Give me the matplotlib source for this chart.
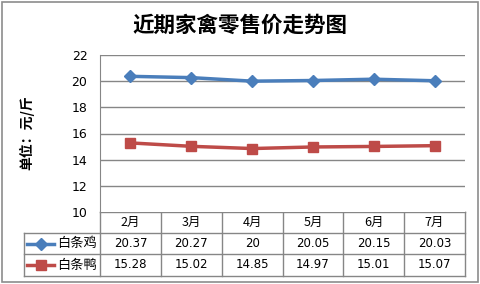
import matplotlib
matplotlib.use("Agg")
import matplotlib.pyplot as plt
from matplotlib.patches import Rectangle

plt.rcParams['font.family'] = ['Noto Sans CJK SC', 'DejaVu Sans']

months = ["2月", "3月", "4月", "5月", "6月", "7月"]
chicken = [20.37, 20.27, 20, 20.05, 20.15, 20.03]
duck = [15.28, 15.02, 14.85, 14.97, 15.01, 15.07]
chicken_txt = ["20.37", "20.27", "20", "20.05", "20.15", "20.03"]
duck_txt = ["15.28", "15.02", "14.85", "14.97", "15.01", "15.07"]
series_names = ["白条鸡", "白条鸭"]
yticks = [10, 12, 14, 16, 18, 20, 22]

blue = "#4A7EBB"
red = "#BE4B48"
grid_c = "#868686"

W, H = 480, 284
fig = plt.figure(figsize=(4.8, 2.84), dpi=100)

# overlay in pixel coords for border, title, table
ov = fig.add_axes([0, 0, 1, 1])
ov.set_xlim(0, W)
ov.set_ylim(H, 0)
ov.axis("off")
ov.add_patch(Rectangle((2, 2), 476, 280, fill=False, ec="#8c8c8c", lw=1.2))

ov.text(240, 25, "近期家禽零售价走势图", ha="center", va="center",
        fontsize=15.5, fontweight="bold")
ov.text(27, 133, "单位：元/斤", ha="center", va="center", rotation=90,
        fontsize=10, fontweight="bold")

# chart
x0, x1, ytop, ybot = 100, 465, 55, 212
ax = fig.add_axes([x0 / W, 1 - ybot / H, (x1 - x0) / W, (ybot - ytop) / H])
ax.set_xlim(-0.5, len(months) - 0.5)
ax.set_ylim(10, 22)
ax.set_yticks(yticks)
ax.set_xticks([])
for s in ["top", "right", "bottom"]:
    ax.spines[s].set_visible(False)
ax.spines["left"].set_color(grid_c)
ax.tick_params(axis="y", length=0, labelsize=9, pad=9)
for lab in ax.get_yticklabels():
    lab.set_fontfamily("DejaVu Sans")
for v in yticks[1:]:
    ax.axhline(v, color=grid_c, lw=1, zorder=1)
xs = range(len(months))
ax.plot(xs, chicken, color=blue, lw=2.5, marker="D", ms=6, zorder=3)
ax.plot(xs, duck, color=red, lw=2.5, marker="s", ms=7, zorder=3)

# data table
colw = (x1 - x0) / len(months)
rows = [212, 233, 254, 276]
ov.plot([x0, x1], [rows[0], rows[0]], color=grid_c, lw=1)
for r in rows[1:]:
    ov.plot([24, x1], [r, r], color=grid_c, lw=1)
ov.plot([24, 24], [rows[1], rows[3]], color=grid_c, lw=1)
for i in range(len(months) + 1):
    xv = x0 + i * colw
    ov.plot([xv, xv], [rows[0], rows[3]], color=grid_c, lw=1)
for i, m in enumerate(months):
    cx = x0 + (i + 0.5) * colw
    ov.text(cx, 222.5, m, ha="center", va="center", fontsize=9)
    ov.text(cx, 243.5, chicken_txt[i], ha="center", va="center", fontsize=8.5,
            family="DejaVu Sans")
    ov.text(cx, 265, duck_txt[i], ha="center", va="center", fontsize=8.5,
            family="DejaVu Sans")

ov.plot([27, 54], [243.5, 243.5], color=blue, lw=2.5)
ov.plot([41], [243.5], color=blue, marker="D", ms=6)
ov.plot([27, 54], [265, 265], color=red, lw=2.5)
ov.plot([41], [265], color=red, marker="s", ms=7)
ov.text(57, 243.5, series_names[0], ha="left", va="center", fontsize=9.5)
ov.text(57, 265, series_names[1], ha="left", va="center", fontsize=9.5)

fig.savefig("out.png", dpi=100)
